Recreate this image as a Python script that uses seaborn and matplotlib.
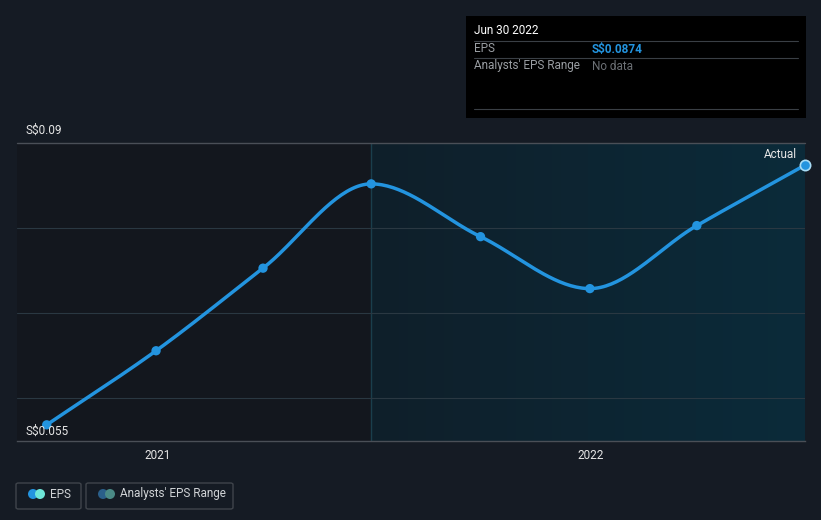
import numpy as np
import pandas as pd
import matplotlib
matplotlib.use("Agg")
import matplotlib.pyplot as plt
import matplotlib.dates as mdates
from matplotlib.patches import Rectangle, FancyBboxPatch, Ellipse
from matplotlib.colors import LinearSegmentedColormap
import seaborn as sns

dates = ["2020-09-30", "2020-12-31", "2021-03-31", "2021-06-30",
         "2021-09-30", "2021-12-31", "2022-03-31", "2022-06-30"]
eps = [0.0569, 0.0656, 0.0753, 0.0852, 0.0790, 0.0729, 0.0803, 0.0874]
ytick_vals = [0.055, 0.09]
ytick_labels = ["S$0.055", "S$0.09"]
grid_vals = [0.06, 0.07, 0.08]
xtick_dates = ["2021-01-01", "2022-01-01"]
xtick_labels = ["2021", "2022"]

BG = "#151b24"
sns.set_theme(style="dark")
plt.rcParams["font.family"] = ["Roboto", "DejaVu Sans"]

df = pd.DataFrame({"date": pd.to_datetime(dates), "eps": eps})
xn = mdates.date2num(df["date"])
yv = np.array(eps)

# monotone cubic (Fritsch-Carlson) smoothing for the line shape
h = np.diff(xn)
d = np.diff(yv) / h
m = np.zeros_like(yv)
m[0], m[-1] = d[0], d[-1]
for i in range(1, len(yv) - 1):
    if d[i - 1] * d[i] <= 0:
        m[i] = 0
    else:
        w1 = 2 * h[i] + h[i - 1]
        w2 = h[i] + 2 * h[i - 1]
        m[i] = (w1 + w2) / (w1 / d[i - 1] + w2 / d[i])
xs, ys = [], []
for i in range(len(yv) - 1):
    t = np.linspace(0, 1, 40, endpoint=False)
    h00 = 2*t**3 - 3*t**2 + 1
    h10 = t**3 - 2*t**2 + t
    h01 = -2*t**3 + 3*t**2
    h11 = t**3 - t**2
    xs.extend(xn[i] + t * h[i])
    ys.extend(h00*yv[i] + h10*h[i]*m[i] + h01*yv[i+1] + h11*h[i]*m[i+1])
xs.append(xn[-1]); ys.append(yv[-1])
smooth = pd.DataFrame({"date": mdates.num2date(xs), "eps": ys})
smooth["date"] = pd.to_datetime(smooth["date"]).dt.tz_localize(None)

fig = plt.figure(figsize=(8.21, 5.2), dpi=100, facecolor=BG)
ax = fig.add_axes([17/821, 1 - 441/520, (805-17)/821, (441-143)/520])
ax.set_facecolor("#13171e")

x0 = mdates.date2num(pd.Timestamp("2020-09-05"))
x1 = xn[-1]
ax.set_xlim(x0, x1)
ax.set_ylim(0.055, 0.09)

# shaded region (gradient) from 2021-06-30 to end
grad = np.linspace(0, 1, 256).reshape(1, -1)
cmap = LinearSegmentedColormap.from_list("g", ["#0f1f2a", "#0b2b3a"])
ax.imshow(grad, extent=[xn[3], x1, 0.055, 0.09], aspect="auto", cmap=cmap,
          zorder=0, interpolation="bicubic")
ax.axvline(xn[3], color="#1a3e4c", lw=1, zorder=1)

for g in grid_vals:
    ax.axhline(g, color="#2a3842", lw=0.8, zorder=1)
ax.axhline(0.09, color="#4a4f57", lw=1, zorder=1, clip_on=False)

sns.lineplot(data=smooth, x="date", y="eps", ax=ax, color="#2394df", lw=2.5,
             zorder=3, legend=False)
sns.scatterplot(data=df, x="date", y="eps", ax=ax, color="#2394df", s=45,
                edgecolor="none", zorder=4, legend=False, clip_on=False)
ax.scatter([xn[-1]], [yv[-1]], s=55, facecolor="#2394df", edgecolor="#a8dcf5",
           lw=1.2, zorder=5, clip_on=False)

ax.set_xlabel(""); ax.set_ylabel("")
ax.set_yticks([])
ax.set_xticks(mdates.date2num(pd.to_datetime(xtick_dates)))
ax.set_xticklabels(xtick_labels, color="#e6e6e6", fontsize=8.5)
ax.tick_params(axis="x", length=4, color="#4a4f57", pad=2, width=1)
for s in ["top", "right", "left"]:
    ax.spines[s].set_visible(False)
ax.spines["bottom"].set_color("#4a4f57")
ax.spines["bottom"].set_linewidth(1)
ax.grid(False)

# y labels (placed in figure pixels relative to the axes)
fx = lambda px: px / 821
fy = lambda py: 1 - py / 520
for v, lab, py in zip(ytick_vals, ytick_labels, [431, 130]):
    fig.text(fx(25), fy(py), lab, color="#e6e6e6", fontsize=8.5,
             va="center", ha="left", zorder=6)

fig.text(fx(797), fy(154), "Actual", color="#e6e6e6", fontsize=8.5, ha="right",
         va="center", zorder=6)

# tooltip
fig.patches.append(Rectangle((fx(466), fy(118)), fx(340), 102/520,
                             transform=fig.transFigure, facecolor="#000000",
                             edgecolor="none", zorder=10))
for yy in [41, 58, 109]:
    fig.lines.append(plt.Line2D([fx(474), fx(798)], [fy(yy), fy(yy)],
                                transform=fig.transFigure, color="#3a3f45",
                                lw=0.8, zorder=11))
fig.text(fx(474), fy(31), "Jun 30 2022", color="#ffffff", fontsize=8.5,
         va="center", zorder=12)
fig.text(fx(474), fy(49), "EPS", color="#9a9ea3", fontsize=8.5, va="center", zorder=12)
fig.text(fx(592), fy(49), "S$0.0874", color="#2394df", fontsize=8.5,
         va="center", fontweight="bold", zorder=12)
fig.text(fx(474), fy(66), "Analysts' EPS Range", color="#9a9ea3", fontsize=8.5,
         va="center", zorder=12)
fig.text(fx(592), fy(66), "No data", color="#6c7075", fontsize=8.5,
         va="center", zorder=12)

# legend buttons
for (bx, bw, label, c1, c2) in [(16, 65, "EPS", "#2394df", "#6ee6d8"),
                                 (86, 147, "Analysts' EPS Range", "#2a5f8a", "#4a8a86")]:
    fig.patches.append(FancyBboxPatch((fx(bx), fy(509)), bw/821, 26/520,
                                      boxstyle="round,pad=0,rounding_size=0.003",
                                      transform=fig.transFigure,
                                      facecolor="none", edgecolor="#3f444b",
                                      lw=1, zorder=10))
    cy = fy(494)
    fig.add_artist(Ellipse((fx(bx + 17), cy), 10/821, 10/520,
                   transform=fig.transFigure, facecolor=c1, edgecolor="none", zorder=11))
    fig.add_artist(Ellipse((fx(bx + 24), cy), 10/821, 10/520,
                   transform=fig.transFigure, facecolor=c2, edgecolor="none", zorder=12))
    fig.text(fx(bx + 34), cy, label, color="#d0d3d6", fontsize=8.5,
             va="center", zorder=12)

fig.savefig("out.png", dpi=100, facecolor=BG)
